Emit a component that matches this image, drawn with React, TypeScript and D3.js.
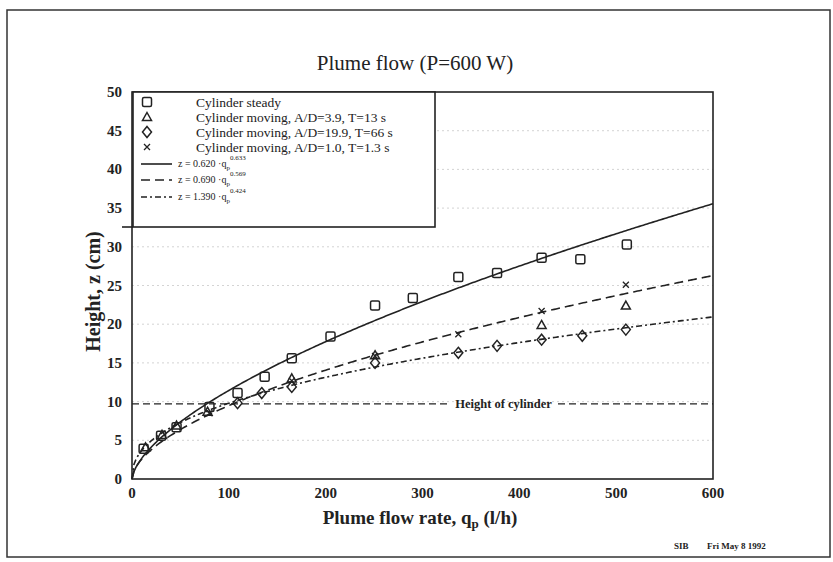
import React from 'react';
import * as d3 from 'd3';

// measured points, flow rate q (l/h) and height z (cm)
const qSteady = [12, 30, 46, 80, 109, 137, 165, 205, 251, 290, 337, 377, 423, 463, 511];
const zSteady = [3.9, 5.6, 6.7, 9.3, 11.1, 13.2, 15.6, 18.4, 22.4, 23.4, 26.1, 26.6, 28.6, 28.4, 30.3];

const qMov39 = [14, 31, 46, 78, 165, 251, 423, 510];
const zMov39 = [4.1, 5.7, 6.9, 8.7, 13.0, 16.0, 19.9, 22.4];

const qMov199 = [109, 134, 165, 251, 337, 377, 423, 465, 510];
const zMov199 = [9.8, 11.1, 11.9, 15.0, 16.3, 17.2, 18.0, 18.5, 19.3];

const qMov10 = [80, 165, 251, 337, 423, 510];
const zMov10 = [8.5, 12.7, 15.9, 18.7, 21.7, 25.1];

// fitted curves z = a * q^b
const fitA = [0.62, 0.69, 1.39];
const fitB = [0.633, 0.569, 0.424];
const fitALabel = ['0.620', '0.690', '1.390'];
const fitBLabel = ['0.633', '0.569', '0.424'];
const fitDash = [null, '9,5', '6,3,2,3'];

const cylinderHeight = 9.7;

const xTicks = [0, 100, 200, 300, 400, 500, 600];
const yTicks = [0, 5, 10, 15, 20, 25, 30, 35, 40, 45, 50];
const gridLevels = [5, 10, 15, 20, 25, 30, 35, 40, 45];

const legendLabels = [
  'Cylinder steady',
  'Cylinder moving, A/D=3.9, T=13 s',
  'Cylinder moving, A/D=19.9, T=66 s',
  'Cylinder moving, A/D=1.0, T=1.3 s',
];

const W = 833;
const H = 562;
const serif = '"Liberation Serif", "DejaVu Serif", serif';
const ink = '#222';

function Marker({ kind, x, y }: { kind: string; x: number; y: number }) {
  const sw = 1.5;
  if (kind === 'square') {
    return <rect x={x - 4.5} y={y - 4.5} width={9} height={9} rx={1.5} fill="none" stroke={ink} strokeWidth={sw} />;
  }
  if (kind === 'triangle') {
    return <path d={`M${x},${y - 4.5}L${x + 4.5},${y + 3.5}L${x - 4.5},${y + 3.5}Z`} fill="none" stroke={ink} strokeWidth={sw} />;
  }
  if (kind === 'diamond') {
    return <path d={`M${x},${y - 5.5}L${x + 4.5},${y}L${x},${y + 5.5}L${x - 4.5},${y}Z`} fill="none" stroke={ink} strokeWidth={sw} />;
  }
  return <path d={`M${x - 3},${y - 3}L${x + 3},${y + 3}M${x + 3},${y - 3}L${x - 3},${y + 3}`} stroke={ink} strokeWidth={1.3} />;
}

export default function App() {
  const left = 132;
  const right = 713;
  const top = 92;
  const bottom = 479;

  const x = d3.scaleLinear().domain([0, 600]).range([left, right]);
  const y = d3.scaleLinear().domain([0, 50]).range([bottom, top]);

  const series = [
    { kind: 'square', q: qSteady, z: zSteady },
    { kind: 'triangle', q: qMov39, z: zMov39 },
    { kind: 'diamond', q: qMov199, z: zMov199 },
    { kind: 'cross', q: qMov10, z: zMov10 },
  ];

  const qs = d3.range(0, 600.5, 2);
  const fitPaths = fitA.map((a, k) => {
    const gen = d3.line<number>().x((q) => x(q)).y((q) => y(a * Math.pow(q, fitB[k])));
    return gen(qs) || '';
  });

  const cylY = y(cylinderHeight);
  const labelX0 = 449;
  const labelX1 = 558;

  // legend geometry
  const lgX0 = left + 1;
  const lgX1 = 435;
  const lgY0 = top;
  const lgY1 = 227;
  const rowY = [103, 118, 133, 148];
  const fitRowY = [166, 182, 199];

  return (
    <svg width={W} height={H} style={{ position: 'absolute', left: 0, top: 0, background: '#fff' }} fontFamily={serif}>
      <rect x={7} y={10} width={823} height={547} fill="none" stroke="#333" strokeWidth={1.5} />

      <text x={415} y={70} textAnchor="middle" fontSize={21} fill={ink}>Plume flow (P=600 W)</text>

      {/* faint grid */}
      {gridLevels.map((g) => (
        <line key={g} x1={left} x2={right} y1={y(g)} y2={y(g)} stroke="#aaa" strokeWidth={1} strokeDasharray="2,3" opacity={0.5} />
      ))}

      {/* plot box */}
      <rect x={left} y={top} width={right - left} height={bottom - top} fill="none" stroke={ink} strokeWidth={1.6} />

      {/* tick labels */}
      {xTicks.map((t) => (
        <text key={t} x={x(t)} y={bottom + 19} textAnchor="middle" fontSize={15} fontWeight="bold" fill={ink}>{t}</text>
      ))}
      {yTicks.map((t) => (
        <text key={t} x={left - 10} y={y(t) + 5} textAnchor="end" fontSize={15} fontWeight="bold" fill={ink}>{t}</text>
      ))}

      <text x={420} y={524} textAnchor="middle" fontSize={19} fontWeight="bold" fill={ink}>
        Plume flow rate, q<tspan fontSize={13} dy={4}>p</tspan><tspan dy={-4}> (l/h)</tspan>
      </text>
      <text transform={`translate(100,${(top + bottom) / 2 + 6}) rotate(-90)`} textAnchor="middle" fontSize={20} fontWeight="bold" fill={ink}>
        Height, z (cm)
      </text>

      {/* height of cylinder */}
      <line x1={left} x2={labelX0} y1={cylY} y2={cylY} stroke={ink} strokeWidth={1.3} strokeDasharray="7,4" />
      <line x1={labelX1} x2={right} y1={cylY} y2={cylY} stroke={ink} strokeWidth={1.3} strokeDasharray="7,4" />
      <text x={(labelX0 + labelX1) / 2} y={cylY + 4} textAnchor="middle" fontSize={12.5} fontWeight="bold" fill={ink}>Height of cylinder</text>

      {/* fitted curves */}
      {fitPaths.map((d, k) => (
        <path key={k} d={d} fill="none" stroke={ink} strokeWidth={1.6} strokeDasharray={fitDash[k] || undefined} />
      ))}

      {/* data points */}
      {series.map((s) => s.q.map((q, i) => (
        <Marker key={`${s.kind}-${i}`} kind={s.kind} x={x(q)} y={y(s.z[i])} />
      )))}

      {/* legend */}
      <rect x={lgX0} y={lgY0} width={lgX1 - lgX0} height={lgY1 - lgY0} fill="#fff" stroke={ink} strokeWidth={1.6} />
      <line x1={left - 10} x2={lgX0} y1={lgY1} y2={lgY1} stroke={ink} strokeWidth={1.6} />
      {series.map((s, i) => (
        <g key={s.kind}>
          <Marker kind={s.kind} x={147} y={rowY[i] - 1} />
          <text x={196} y={rowY[i] + 4} fontSize={13.5} fill={ink}>{legendLabels[i]}</text>
        </g>
      ))}
      {fitA.map((a, k) => (
        <g key={k}>
          <line x1={141} x2={172} y1={fitRowY[k] - 2} y2={fitRowY[k] - 2} stroke={ink} strokeWidth={1.6} strokeDasharray={fitDash[k] || undefined} />
          <text x={178} y={fitRowY[k] + 1} fontSize={10} fill={ink}>
            z = {fitALabel[k]} ·q<tspan fontSize={7} dy={3}>p</tspan>
            <tspan fontSize={7} dy={-10}>{fitBLabel[k]}</tspan>
          </text>
        </g>
      ))}

      <text x={674} y={549} fontSize={9} fontWeight="bold" fill={ink}>SIB</text>
      <text x={707} y={549} fontSize={9} fontWeight="bold" fill={ink}>Fri May 8 1992</text>
    </svg>
  );
}
